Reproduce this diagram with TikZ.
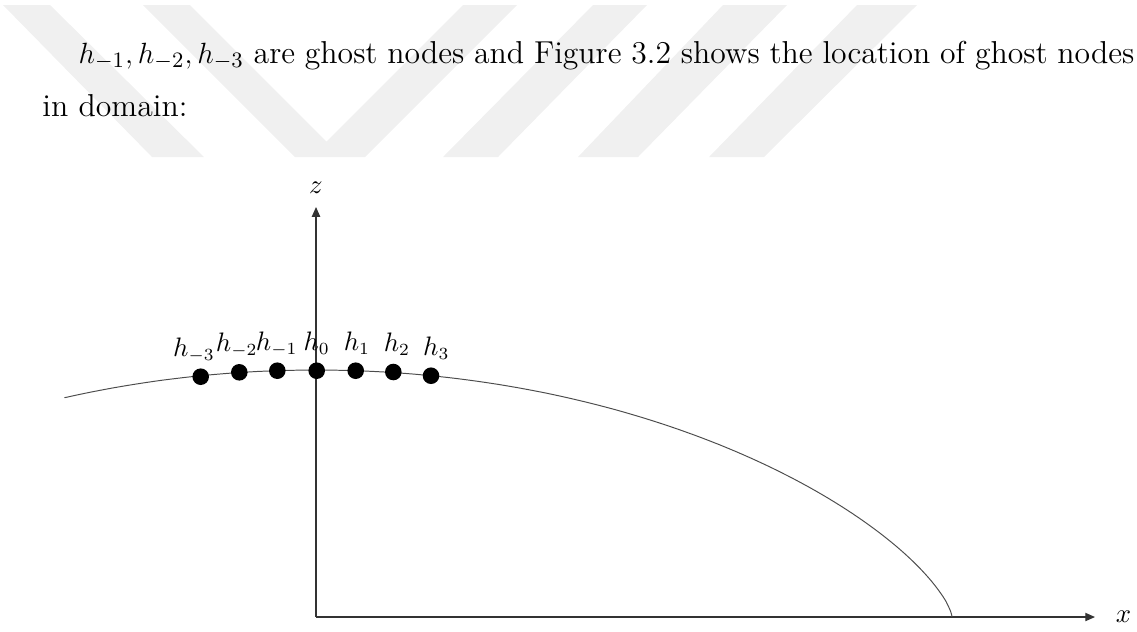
\documentclass[tikz,border=0pt]{standalone}
\usepackage{amsmath}
\usepackage{tikz}
\usetikzlibrary{arrows.meta,positioning}
\tikzset{
  wm/.style={fill=black!6,draw=none},
  ax/.style={line width=0.5pt,black!80,-{Triangle[length=4pt,width=3.4pt]}},
  prof/.style={line width=0.4pt,black!70},
  gn/.style={circle,fill=black,inner sep=0pt,minimum size=6.8pt},
  gnl/.style={anchor=base,inner sep=0pt,font=\fontsize{10.5}{12}\selectfont},
  axl/.style={font=\fontsize{11}{12}\selectfont},
  para/.style={anchor=base west,inner sep=0pt,text width=447.7pt,align=justify,font=\fontsize{13}{22.1}\selectfont}
}

\begin{document}
\begin{tikzpicture}[x=0.41pt,y=-0.41pt]
\useasboundingbox (0,0) rectangle (1137,631);
% watermark bands
\fill[wm] (3,5) -- (50,5) -- (204,157) -- (152,157) -- cycle;
\fill[wm] (143,5) -- (190,5) -- (326.5,141.5) -- (463,5) -- (517,5) -- (365,157) -- (295,157) -- cycle;
\fill[wm] (593,5) -- (647,5) -- (498,157) -- (443,157) -- cycle;
\fill[wm] (723,5) -- (787,5) -- (638,157) -- (578,157) -- cycle;
\fill[wm] (857,5) -- (917,5) -- (764,157) -- (709,157) -- cycle;
% text above the figure
\node[para] (txt) at (42,63) {\noindent\hspace*{14.8pt}$h_{-1}, h_{-2}, h_{-3}$ are ghost nodes and Figure 3.2 shows the location of ghost nodes\linebreak in domain:};
% axes
\coordinate (o) at (316,617);
\coordinate (zend) at (316,207);
\coordinate (xend) at (1095,617);
\draw[ax] (o) -- (zend);
\draw[ax] (o) -- (xend);
\node[axl,above=2pt of zend] (zl) {$z$};
\node[axl,right=5pt of xend] (xl) {$x$};
% free surface
\draw[prof] plot[domain=113.3:0.2,samples=120,variable=\t] ({316+636*cos(\t)},{617-247*pow(sin(\t),1.4)});
% nodes h_k
\foreach \n/\k/\x/\y/\dx in {m3/-3/200.7/376.7/-6.7, m2/-2/239.3/372.3/-2.6, m1/-1/277.3/370.7/-0.6, 0/0/316.7/370.7/0, 1/1/355.7/370.7/1.3, 2/2/393.3/372/3.7, 3/3/431/375.7/5.4}{
  \node[gn] (h\n) at (\x,\y) {};
  \node[gnl] (l\n) at ([xshift=\dx*0.41pt,yshift=8.4pt]h\n.center) {$h_{\k}$};
}
\end{tikzpicture}
\end{document}
